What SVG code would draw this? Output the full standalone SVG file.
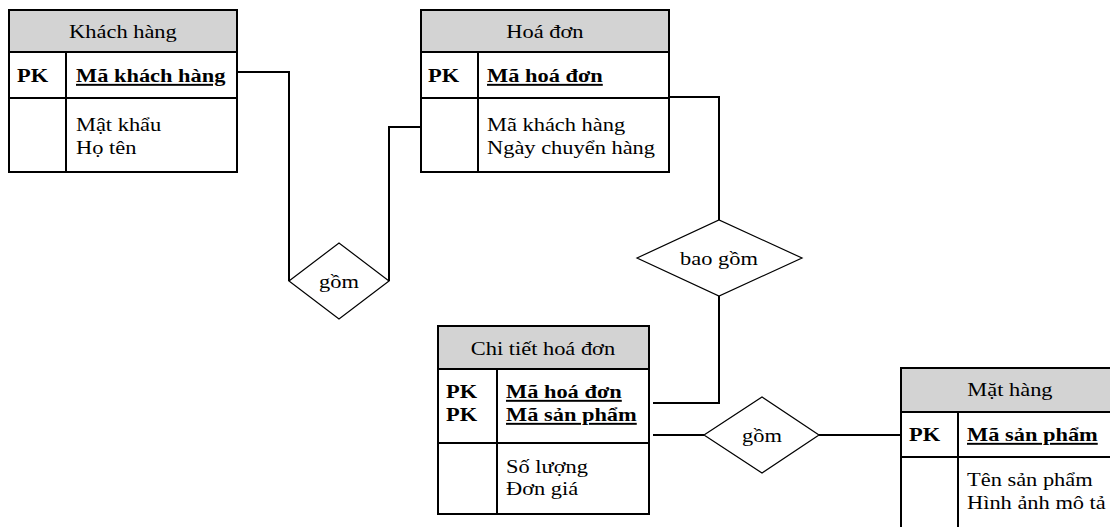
<svg xmlns="http://www.w3.org/2000/svg" width="1110" height="527" viewBox="0 0 1110 527">
  <style>
    text { font-family: 'Liberation Serif', 'DejaVu Serif', serif; font-size: 19.5px; fill: #000;
           transform-box: fill-box; transform-origin: 0 50%; transform: scaleX(1.15); }
    .title { text-anchor: middle; transform-origin: 50% 50%; }
    .key { font-weight: bold; }
    .pk { font-weight: bold; text-decoration: underline; }
    .box { fill: #fff; stroke: #000; stroke-width: 2; }
    .head { fill: #d3d3d3; stroke: #000; stroke-width: 2; }
    .div { stroke: #000; stroke-width: 2; fill: none; }
    .rel { fill: #fff; stroke: #000; stroke-width: 1.2; }
    .link { fill: none; stroke: #000; stroke-width: 2; }
  </style>

  <!-- relationship lines -->
  <g id="connectors">
    <polyline class="link" points="237,72 289,72 289,281"/>
    <polyline class="link" points="389,281 389,127 421,127"/>
    <polyline class="link" points="669,97 719,97 719,220"/>
    <polyline class="link" points="719,296 719,403 653,403"/>
    <polyline class="link" points="653,435 704,435"/>
    <polyline class="link" points="819,435 901,435"/>
  </g>

  <!-- Khách hàng -->
  <g id="khach-hang">
    <rect class="box" x="9" y="10" width="228" height="162"/>
    <rect class="head" x="9" y="10" width="228" height="42"/>
    <line class="div" x1="9" y1="98" x2="237" y2="98"/>
    <line class="div" x1="66" y1="52" x2="66" y2="172"/>
    <text class="title" x="123" y="38">Khách hàng</text>
    <text class="key" x="17" y="82">PK</text>
    <text class="pk" x="76" y="82">Mã khách hàng</text>
    <text x="76" y="131">Mật khẩu</text>
    <text x="76" y="154">Họ tên</text>
  </g>

  <!-- Hoá đơn -->
  <g id="hoa-don">
    <rect class="box" x="421" y="10" width="248" height="162"/>
    <rect class="head" x="421" y="10" width="248" height="42"/>
    <line class="div" x1="421" y1="98" x2="669" y2="98"/>
    <line class="div" x1="478" y1="52" x2="478" y2="172"/>
    <text class="title" x="545" y="38">Hoá đơn</text>
    <text class="key" x="428" y="82">PK</text>
    <text class="pk" x="487" y="82">Mã hoá đơn</text>
    <text x="487" y="131">Mã khách hàng</text>
    <text x="487" y="154">Ngày chuyển hàng</text>
  </g>

  <!-- Chi tiết hoá đơn -->
  <g id="chi-tiet-hoa-don">
    <rect class="box" x="438" y="326" width="211" height="188"/>
    <rect class="head" x="438" y="326" width="211" height="43"/>
    <line class="div" x1="438" y1="443" x2="649" y2="443"/>
    <line class="div" x1="497" y1="369" x2="497" y2="514"/>
    <text class="title" x="543" y="355">Chi tiết hoá đơn</text>
    <text class="key" x="446" y="398">PK</text>
    <text class="key" x="446" y="421">PK</text>
    <text class="pk" x="506" y="398">Mã hoá đơn</text>
    <text class="pk" x="506" y="421">Mã sản phẩm</text>
    <text x="506" y="473">Số lượng</text>
    <text x="506" y="495">Đơn giá</text>
  </g>

  <!-- Mặt hàng -->
  <g id="mat-hang">
    <rect class="box" x="901" y="368" width="240" height="180"/>
    <rect class="head" x="901" y="368" width="240" height="44"/>
    <line class="div" x1="901" y1="457" x2="1141" y2="457"/>
    <line class="div" x1="958" y1="412" x2="958" y2="548"/>
    <text class="title" x="1010" y="396">Mặt hàng</text>
    <text class="key" x="909" y="441">PK</text>
    <text class="pk" x="967" y="441">Mã sản phẩm</text>
    <text x="967" y="486">Tên sản phẩm</text>
    <text x="967" y="509">Hình ảnh mô tả</text>
  </g>

  <!-- gồm (Khách hàng - Hoá đơn) -->
  <g id="gom-1">
    <polygon class="rel" points="289,281 339,243 389,281 339,319"/>
    <text class="title" x="339" y="288">gồm</text>
  </g>

  <!-- bao gồm -->
  <g id="bao-gom">
    <polygon class="rel" points="637,258 719,220 802,258 719,296"/>
    <text class="title" x="719" y="265">bao gồm</text>
  </g>

  <!-- gồm (Chi tiết hoá đơn - Mặt hàng) -->
  <g id="gom-2">
    <polygon class="rel" points="704,435 762,397 819,435 762,473"/>
    <text class="title" x="762" y="442">gồm</text>
  </g>
</svg>
